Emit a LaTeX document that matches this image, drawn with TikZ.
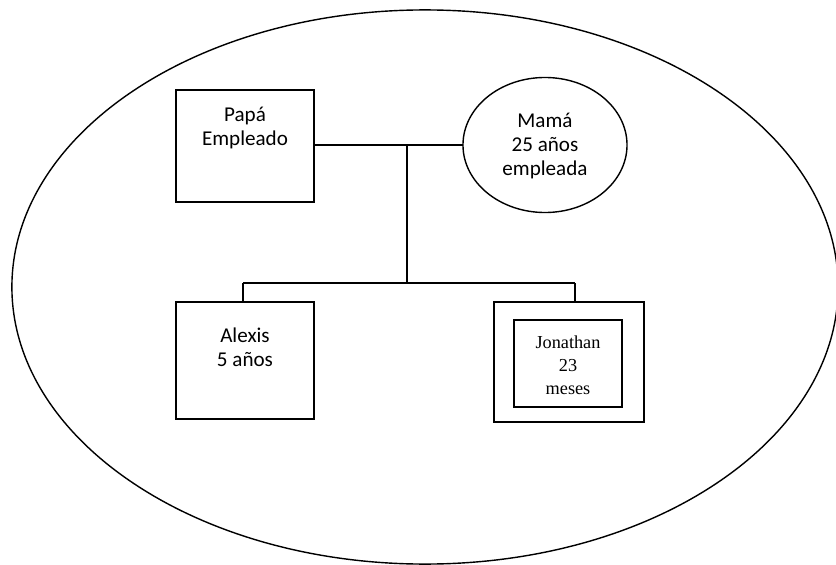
\documentclass[tikz,border=0pt]{standalone}
\usepackage{fontspec}
\usetikzlibrary{shapes.geometric}
\setmainfont{Carlito}
\newfontfamily\timesfont{Liberation Serif}

\tikzset{
  famline/.style={line width=1pt, black},
  malebox/.style={draw, line width=1pt, rectangle, inner sep=0pt, outer sep=0pt},
  femaleoval/.style={draw, line width=1pt, ellipse, inner sep=0pt, outer sep=0pt},
  famtext/.style={align=center, font=\fontsize{15}{17.1}\selectfont},
  kidtext/.style={align=center, font=\timesfont\fontsize{13}{16.3}\selectfont}
}

\begin{document}
\begin{tikzpicture}[x=0.025cm, y=-0.025cm]

\useasboundingbox (0,0) rectangle (836,565);


% Part A: Household


% Outer ellipse
\draw[famline] (425,287) ellipse [x radius=10.325cm, y radius=6.925cm];


% Part B: Parents


% Father
\node[malebox, minimum width=3.45cm, minimum height=2.8cm] (papa) at (245,146) {};
\node[famtext] (papatext) at (245,128) {Papá\\Empleado};

% Mother
\node[femaleoval, minimum width=4.1cm, minimum height=3.375cm] (mama) at (545,145) {};
\node[famtext] (mamatext) at (545,146) {Mamá\\25 años\\empleada};


% Part C: Children


% Alexis
\node[malebox, minimum width=3.45cm, minimum height=2.925cm] (alexis) at (245,360.5) {};
\node[famtext] (alexistext) at (245,347) {Alexis\\5 años};

% Jonathan
\node[malebox, minimum width=3.75cm, minimum height=3cm] (jonout) at (569,362) {};
\node[malebox, minimum width=2.7cm, minimum height=2.175cm] (jonin) at (568,363.5) {};
\node[kidtext] (jontext) at (568,365) {Jonathan\\23\\meses};


% Part D: Connections


\coordinate (join) at (407,145);
\coordinate (split) at (407,283);
\coordinate (kidL) at (243,283);
\coordinate (kidR) at (575,283);

% Marriage line
\draw[famline] (mama.west) -- (mama.west -| papa.east);

% Descent line
\draw[famline] (join) -- (split);
\draw[famline] (kidL) -- (kidR);
\draw[famline] (kidL) -- (kidL |- alexis.north);
\draw[famline] (kidR) -- (kidR |- jonout.north);

\end{tikzpicture}
\end{document}
